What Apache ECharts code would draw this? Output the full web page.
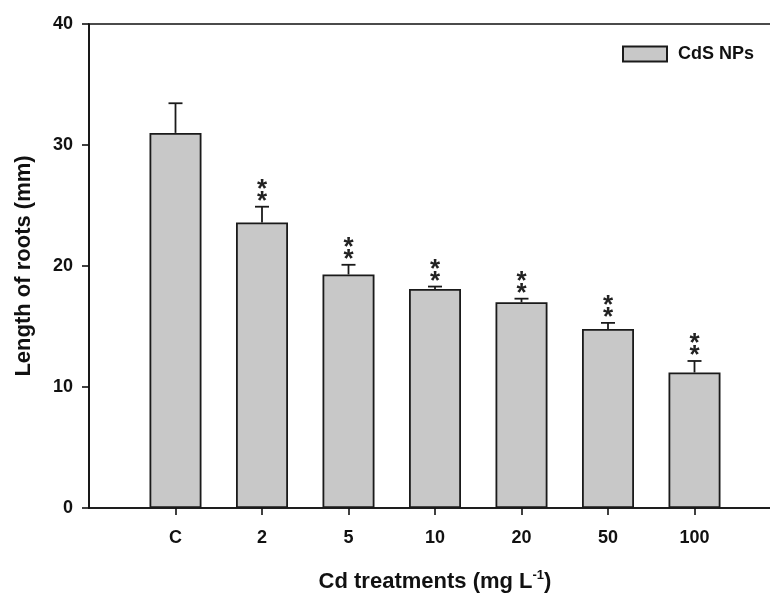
<!DOCTYPE html>
<html>
<head>
<meta charset="utf-8">
<script src="https://cdn.jsdelivr.net/npm/echarts@6/dist/echarts.min.js"></script>
<style>
  html, body { margin: 0; padding: 0; background: #fff; }
  #chart { width: 770px; height: 594px; }
</style>
</head>
<body>
<div id="chart"></div>
<script>
// data
const categories = ['C', '2', '5', '10', '20', '50', '100'];
const rootLength = [31.0, 23.6, 19.3, 18.1, 17.0, 14.8, 11.2];
const rootErr = [2.45, 1.3, 0.8, 0.2, 0.3, 0.5, 0.95];
const signif = ['', '**', '**', '**', '**', '**', '**'];
const yTicks = [0, 10, 20, 30, 40];

(function() {
  let myChart = echarts.init(document.getElementById('chart'));
  const FONT = 'Liberation Sans, Arial, sans-serif';
  const INK = '#111';

  // empty slot before and after the categories, like the original frame
  const xData = [''].concat(categories, ['']);
  const barData = ['-'].concat(rootLength, ['-']);
  const errData = rootLength.map(function(v, i) {
    return [i + 1, v, rootErr[i], signif[i]];
  });

  let option = {
    animation: false,
    grid: {
      left: 89,
      top: 24,
      width: 692,
      height: 484,
      outerBoundsMode: 'none',
      containLabel: false,
      show: true,
      borderColor: INK,
      borderWidth: 1.6
    },
    legend: {
      data: ['CdS NPs'],
      left: 617,
      top: 40,
      icon: 'rect',
      itemWidth: 44,
      itemHeight: 15,
      textStyle: {
        fontFamily: FONT,
        fontWeight: 'bold',
        fontSize: 18,
        color: INK,
        padding: [0, 0, 0, 6]
      }
    },
    xAxis: {
      type: 'category',
      data: xData,
      boundaryGap: false,
      name: 'Cd treatments (mg L{sup|-1})',
      nameLocation: 'middle',
      nameGap: 61,
      nameTextStyle: {
        fontFamily: FONT,
        fontWeight: 'bold',
        fontSize: 22,
        color: INK,
        rich: {
          sup: {
            fontFamily: FONT,
            fontWeight: 'bold',
            fontSize: 13,
            color: INK,
            padding: [0, 0, 12, 0]
          }
        }
      },
      axisLine: { lineStyle: { color: INK, width: 1.6 } },
      axisTick: {
        length: 7,
        lineStyle: { color: INK, width: 1.6 },
        interval: function(index) {
          return index > 0 && index <= categories.length;
        }
      },
      axisLabel: {
        interval: 0,
        margin: 21,
        fontFamily: FONT,
        fontWeight: 'bold',
        fontSize: 18,
        color: INK
      },
      splitLine: { show: false }
    },
    yAxis: {
      type: 'value',
      min: yTicks[0],
      max: yTicks[yTicks.length - 1],
      interval: 10,
      name: 'Length of roots (mm)',
      nameLocation: 'middle',
      nameGap: 54,
      nameTextStyle: {
        fontFamily: FONT,
        fontWeight: 'bold',
        fontSize: 22,
        color: INK
      },
      axisLine: { show: true, lineStyle: { color: INK, width: 1.6 } },
      axisTick: { show: true, length: 7, lineStyle: { color: INK, width: 1.6 } },
      axisLabel: {
        margin: 16,
        fontFamily: FONT,
        fontWeight: 'bold',
        fontSize: 18,
        color: INK
      },
      splitLine: { show: false }
    },
    series: [
      {
        name: 'CdS NPs',
        type: 'bar',
        data: barData,
        barWidth: 52,
        itemStyle: {
          color: '#c8c8c8',
          borderColor: '#1a1a1a',
          borderWidth: 1.8
        }
      },
      {
        // error bars + significance stars
        type: 'custom',
        data: errData,
        z: 5,
        renderItem: function(params, api) {
          const x = api.value(0);
          const v = api.value(1);
          const e = api.value(2);
          const s = api.value(3);
          const base = api.coord([x, v]);
          const top = api.coord([x, v + e]);
          const half = 7;
          const line = { stroke: '#1a1a1a', lineWidth: 1.8 };
          const kids = [
            { type: 'line', shape: { x1: base[0], y1: base[1], x2: top[0], y2: top[1] }, style: line },
            { type: 'line', shape: { x1: top[0] - half, y1: top[1], x2: top[0] + half, y2: top[1] }, style: line }
          ];
          if (s) {
            for (let k = 0; k < s.length; k++) {
              kids.push({
                type: 'text',
                style: {
                  text: '*',
                  x: top[0],
                  y: top[1] - 5 - k * 12,
                  textAlign: 'center',
                  textVerticalAlign: 'middle',
                  font: 'bold 26px ' + FONT,
                  fill: '#222'
                }
              });
            }
          }
          return { type: 'group', children: kids };
        }
      }
    ]
  };
  myChart.setOption(option);
  window.addEventListener('resize', function() {
    myChart.resize();
  });
})();
</script>
</body>
</html>
